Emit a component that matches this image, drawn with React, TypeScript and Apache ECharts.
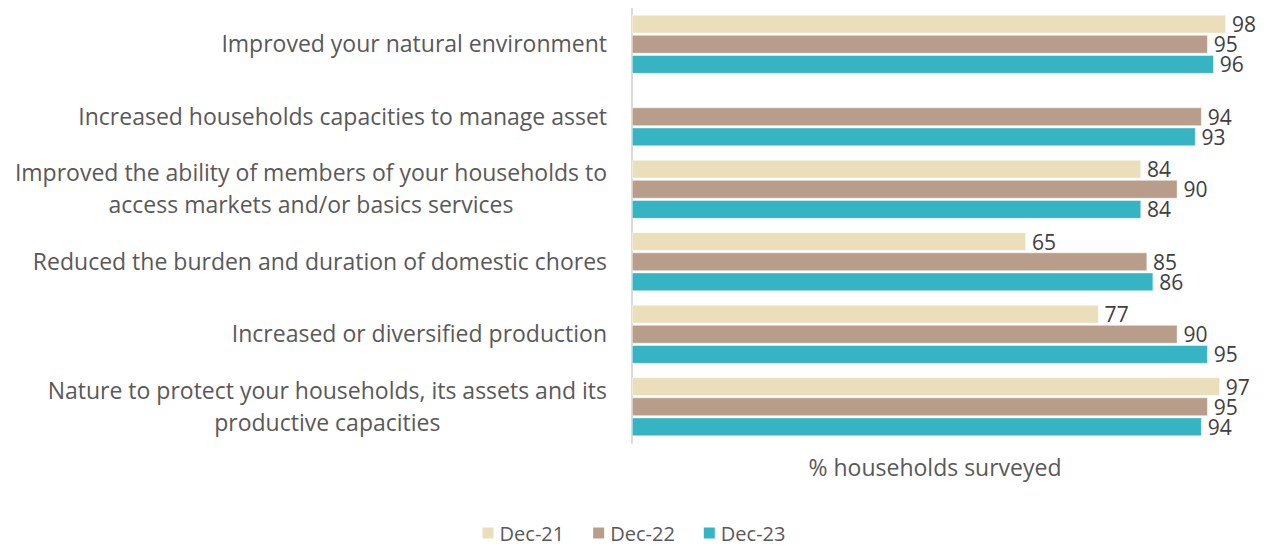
import React, { useEffect, useRef } from "react";
import * as echarts from "echarts";

const categories = [
  "Improved your natural environment",
  "Increased households capacities to manage asset",
  "Improved the ability of members of your households to\naccess markets and/or basics services",
  "Reduced the burden and duration of domestic chores",
  "Increased or diversified production",
  "Nature to protect your households, its assets and its\nproductive capacities",
];
const seriesNames = ["Dec-21", "Dec-22", "Dec-23"];
const dec21: (number | null)[] = [98, null, 84, 65, 77, 97];
const dec22: number[] = [95, 94, 90, 85, 90, 95];
const dec23: number[] = [96, 93, 84, 86, 95, 94];
const colors = ["#EBDFBB", "#B89E8A", "#36B4C3"];
const axisName = "% households surveyed";

const FONT = "Open Sans";

export default function App() {
  const ref = useRef<HTMLDivElement>(null);
  useEffect(() => {
    if (!ref.current) return;
    const chart = echarts.init(ref.current, undefined, { renderer: "svg" });
    const data = [dec21, dec22, dec23];
    chart.setOption({
      animation: false,
      textStyle: { fontFamily: FONT },
      color: colors,
      grid: { left: 624, right: 20, top: 0, bottom: 104, containLabel: false },
      legend: {
        bottom: -1,
        left: "center",
        itemWidth: 13,
        itemHeight: 13,
        itemGap: 27,
        icon: "rect",
        textStyle: { fontSize: 20, color: "#595959", fontFamily: FONT },
        data: seriesNames,
      },
      xAxis: {
        type: "value",
        min: 0,
        max: 100,
        show: true,
        axisLine: { show: false },
        axisTick: { show: false },
        axisLabel: { show: false },
        splitLine: { show: false },
        name: axisName,
        nameLocation: "middle",
        nameGap: 12,
        nameTextStyle: { fontSize: 23, color: "#595959", fontFamily: FONT },
      },
      yAxis: {
        type: "category",
        inverse: true,
        data: categories,
        axisLine: { show: true, lineStyle: { color: "#D9D9D9", width: 2 } },
        axisTick: { show: false },
        axisLabel: {
          margin: 25,
          fontSize: 23,
          color: "#595959",
          fontFamily: FONT,
          formatter: (v: string) =>
            v
              .split("\n")
              .map((l) => `{c|${l}}`)
              .join("\n"),
          rich: {
            c: {
              align: "center",
              fontSize: 23,
              color: "#595959",
              fontFamily: FONT,
              lineHeight: 32,
              padding: [0, 0, 2, 0],
            },
          },
        },
      },
      series: seriesNames.map((name, i) => ({
        name,
        type: "bar",
        data: data[i],
        barCategoryGap: "19%",
        barGap: "9%",
        itemStyle: { color: colors[i], borderColor: "#ffffff", borderWidth: 0.5 },
        label: {
          show: true,
          position: "right",
          distance: 6,
          fontSize: 21,
          lineHeight: 18,
          color: "#404040",
          fontFamily: FONT,
        },
      })),
    });
    return () => chart.dispose();
  }, []);
  return <div ref={ref} style={{ width: 1250, height: 539 }} />;
}
